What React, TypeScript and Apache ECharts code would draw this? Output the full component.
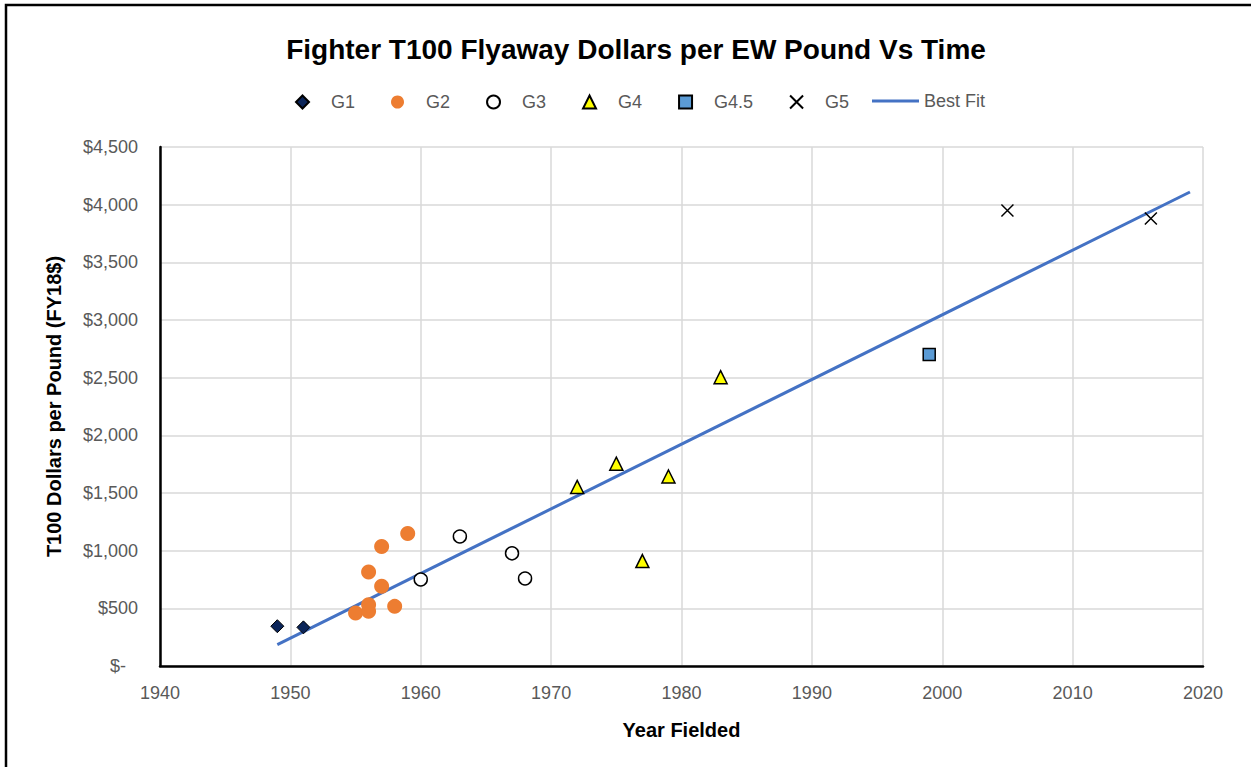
import React, { useEffect, useRef } from "react";
import * as echarts from "echarts";

const FONT = "'Liberation Sans', Arial, sans-serif";

// [year, $ per pound]
const g1Data: number[][] = [[1949, 345], [1951, 335]];
const g2Data: number[][] = [
  [1955, 460], [1956, 474], [1956, 532], [1956, 814],
  [1957, 692], [1957, 1036], [1958, 517], [1959, 1149],
];
const g3Data: number[][] = [[1960, 750], [1963, 1123], [1967, 977], [1968, 759]];
const g4Data: number[][] = [[1972, 1553], [1975, 1754], [1977, 910], [1979, 1643], [1983, 2504]];
const g45Data: number[][] = [[1999, 2700]];
const g5Data: number[][] = [[2005, 3950], [2016, 3880]];
const bestFitData: number[][] = [[1949, 185], [2019, 4110]];

const markerNames = ["G1", "G2", "G3", "G4", "G4.5", "G5"];
const lineNames = ["Best Fit"];
const xTicks = { min: 1940, max: 2020, interval: 10 };
const yTicks = { min: 0, max: 4500, interval: 500 };

export default function App() {
  const ref = useRef<HTMLDivElement>(null);
  useEffect(() => {
    if (!ref.current) return;
    const chart = echarts.init(ref.current, null, { renderer: "svg" });
    const labelColor = "#595959";
    const grid = "#d9d9d9";
    chart.setOption({
      animation: false,
      backgroundColor: "#ffffff",
      graphic: [
        {
          type: "rect",
          shape: { x: 6, y: 5, width: 1300, height: 820 },
          style: { fill: "none", stroke: "#000", lineWidth: 2.5 },
          z: -1,
          silent: true,
        },
      ],
      title: {
        text: "Fighter T100 Flyaway Dollars per EW Pound Vs Time",
        left: 631,
        textAlign: "center",
        top: 30,
        textStyle: { fontFamily: FONT, fontSize: 28, fontWeight: "bold", color: "#000" },
      },
      legend: [
        {
          data: markerNames,
          left: 295,
          top: 93,
          padding: 0,
          itemWidth: 13,
          itemHeight: 13,
          itemGap: 36,
          textStyle: {
            fontFamily: FONT,
            fontSize: 18,
            color: labelColor,
            padding: [0, 0, 0, 17],
          },
        },
        {
          data: lineNames.map((n) => ({ name: n, icon: "rect" })),
          left: 872,
          top: 92,
          padding: 0,
          itemWidth: 47,
          itemHeight: 3,
          textStyle: { fontFamily: FONT, fontSize: 18, color: labelColor },
        },
      ],
      grid: { left: 160, right: 48, top: 147, bottom: 101 },
      xAxis: {
        type: "value",
        min: xTicks.min,
        max: xTicks.max,
        interval: xTicks.interval,
        name: "Year Fielded",
        nameLocation: "middle",
        nameGap: 54,
        nameTextStyle: { fontFamily: FONT, fontSize: 20, fontWeight: "bold", color: "#000" },
        axisLine: { show: true, onZero: false, lineStyle: { color: "#000", width: 2.5 } },
        axisTick: { show: false },
        axisLabel: {
          fontFamily: FONT,
          fontSize: 18,
          color: labelColor,
          margin: 18,
          formatter: (v: number) => String(v),
        },
        splitLine: { show: true, lineStyle: { color: grid, width: 1.5 } },
      },
      yAxis: {
        type: "value",
        min: yTicks.min,
        max: yTicks.max,
        interval: yTicks.interval,
        name: "T100 Dollars per Pound (FY18$)",
        nameLocation: "middle",
        nameGap: 96,
        nameTextStyle: { fontFamily: FONT, fontSize: 20, fontWeight: "bold", color: "#000" },
        axisLine: { show: true, lineStyle: { color: "#000", width: 2.5 } },
        axisTick: { show: false },
        axisLabel: {
          fontFamily: FONT,
          fontSize: 18,
          color: labelColor,
          margin: 22,
          formatter: (v: number) =>
            v === 0 ? "{z|$-}" : "$" + v.toLocaleString("en-US"),
          rich: {
            z: { fontFamily: FONT, fontSize: 18, color: labelColor, padding: [0, 12, 0, 0] },
          },
        },
        splitLine: { show: true, lineStyle: { color: grid, width: 1.5 } },
      },
      series: [
        {
          name: "G1",
          type: "scatter",
          symbol: "diamond",
          symbolSize: 13,
          data: g1Data,
          itemStyle: { color: "#0B2559", borderColor: "#000", borderWidth: 1, opacity: 1 },
          z: 3,
        },
        {
          name: "G2",
          type: "scatter",
          symbol: "circle",
          symbolSize: 15,
          data: g2Data,
          itemStyle: { color: "#ED7D31", opacity: 1 },
          z: 3,
        },
        {
          name: "G3",
          type: "scatter",
          symbol: "circle",
          symbolSize: 13,
          data: g3Data,
          itemStyle: { color: "#ffffff", borderColor: "#000", borderWidth: 1.5, opacity: 1 },
          z: 3,
        },
        {
          name: "G4",
          type: "scatter",
          symbol: "triangle",
          symbolSize: 13,
          data: g4Data,
          itemStyle: { color: "#FFFF00", borderColor: "#000", borderWidth: 1.5, opacity: 1 },
          z: 3,
        },
        {
          name: "G4.5",
          type: "scatter",
          symbol: "rect",
          symbolSize: 12,
          data: g45Data,
          itemStyle: { color: "#5B9BD5", borderColor: "#000", borderWidth: 1.5, opacity: 1 },
          z: 3,
        },
        {
          name: "G5",
          type: "scatter",
          symbol: "path://M0,0L10,10M10,0L0,10",
          symbolSize: 12,
          data: g5Data,
          itemStyle: { color: "#000", borderColor: "#000", borderWidth: 1.5, opacity: 1 },
          z: 3,
        },
        {
          name: "Best Fit",
          type: "line",
          symbol: "none",
          data: bestFitData,
          lineStyle: { color: "#4472C4", width: 3 },
          itemStyle: { color: "#4472C4" },
          z: 2,
        },
      ],
    });
    return () => chart.dispose();
  }, []);
  return (
    <div
      ref={ref}
      style={{ position: "fixed", left: 0, top: 0, width: 1251, height: 767 }}
    />
  );
}
